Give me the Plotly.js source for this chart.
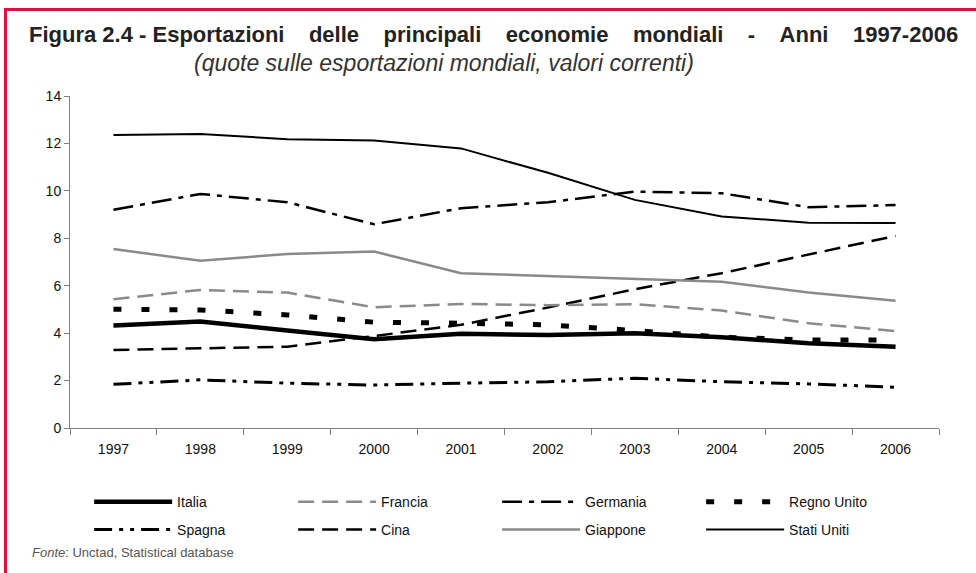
<!DOCTYPE html>
<html>
<head>
<meta charset="utf-8">
<script src="https://cdn.plot.ly/plotly-3.0.1.min.js"></script>
<style>
  body { margin: 0; background: #fff; }
  #plot { width: 976px; height: 573px; }
  .rb-left { position: absolute; left: 4px; top: 8px; width: 3px; height: 565px; background: #d7143f; }
  .rb-top { position: absolute; left: 4px; top: 8px; width: 972px; height: 3px; background: #d7143f; }
</style>
</head>
<body>
<div id="plot"></div>
<div class="rb-left"></div>
<div class="rb-top"></div>
<script>
// years on the x axis
let anni = ["1997", "1998", "1999", "2000", "2001", "2002", "2003", "2004", "2005", "2006"]

// quote sulle esportazioni mondiali (%)
let italia = [4.32, 4.49, 4.11, 3.74, 3.97, 3.92, 4.00, 3.83, 3.57, 3.43]
let francia = [5.43, 5.82, 5.71, 5.09, 5.23, 5.18, 5.22, 4.95, 4.42, 4.09]
let germania = [9.20, 9.87, 9.52, 8.59, 9.27, 9.52, 9.97, 9.90, 9.31, 9.40]
let regnoUnito = [5.01, 4.98, 4.77, 4.46, 4.42, 4.35, 4.11, 3.83, 3.71, 3.71]
let spagna = [1.84, 2.03, 1.89, 1.81, 1.89, 1.95, 2.10, 1.95, 1.86, 1.72]
let cina = [3.29, 3.35, 3.43, 3.88, 4.35, 5.08, 5.85, 6.53, 7.30, 8.10]
let giappone = [7.55, 7.05, 7.34, 7.44, 6.53, 6.41, 6.27, 6.17, 5.71, 5.37]
let statiUniti = [12.36, 12.40, 12.18, 12.12, 11.79, 10.76, 9.62, 8.92, 8.66, 8.64]

// title words, spread out like the justified title of the original
let titoloParole = ["Esportazioni", "delle", "principali", "economie", "mondiali", "-", "Anni", "1997-2006"]

const grigio = "#8a8a8a"

function serie(nome, valori, colore, spessore, tratto, legenda) {
  return {
    x: anni,
    y: valori,
    name: nome,
    type: "scatter",
    mode: "lines",
    line: { color: colore, width: spessore, dash: tratto },
    legend: legenda,
    hoverinfo: "skip"
  }
}

let data = [
  serie("Spagna", spagna, "#000", 3, "18px,7px,4px,7px,4px,7px", "legend2"),
  serie("Cina", cina, "#000", 2.5, "16px,8px", "legend2"),
  serie("Giappone", giappone, grigio, 2.5, "solid", "legend2"),
  serie("Stati Uniti", statiUniti, "#000", 2, "solid", "legend2"),
  serie("Italia", italia, "#000", 4.5, "solid", "legend"),
  serie("Francia", francia, grigio, 2.5, "16px,8px", "legend"),
  serie("Germania", germania, "#000", 2.5, "20px,7px,5px,7px", "legend"),
  serie("Regno Unito", regnoUnito, "#000", 5, "8px,20px", "legend")
]

const fontBase = { family: "Liberation Sans, Arial, sans-serif", size: 14, color: "#111" }
const spazio = "&nbsp;&nbsp;&nbsp;&nbsp;"

let legendaBase = {
  orientation: "h",
  itemwidth: 78,
  entrywidth: 111,
  entrywidthmode: "pixels",
  traceorder: "normal",
  font: fontBase,
  xanchor: "left",
  yanchor: "middle",
  bgcolor: "rgba(0,0,0,0)"
}

let layout = {
  width: 976,
  height: 573,
  margin: { l: 70, r: 37, t: 96, b: 145 },
  paper_bgcolor: "#fff",
  plot_bgcolor: "#fff",
  font: fontBase,
  showlegend: true,
  xaxis: {
    type: "category",
    range: [-0.5, 9.5],
    tickson: "boundaries",
    ticks: "outside",
    ticklen: 6,
    tickcolor: "#808080",
    showline: true,
    linecolor: "#808080",
    showgrid: false,
    zeroline: false,
    ticklabelstandoff: 8,
    tickfont: fontBase,
    fixedrange: true
  },
  yaxis: {
    range: [0, 14],
    dtick: 2,
    ticks: "outside",
    ticklen: 5,
    tickcolor: "#808080",
    showline: true,
    linecolor: "#808080",
    showgrid: false,
    zeroline: false,
    tickfont: fontBase,
    fixedrange: true
  },
  legend: Object.assign({}, legendaBase, { x: 0.022, y: -0.223 }),
  legend2: Object.assign({}, legendaBase, { x: 0.022, y: -0.307 }),
  annotations: [
    {
      text: "<b>Figura 2.4 - " + titoloParole.join(spazio) + "</b>",
      xref: "paper", yref: "paper", x: -0.05, y: 1.185,
      xanchor: "left", yanchor: "middle", showarrow: false,
      font: { family: "Liberation Sans, Arial, sans-serif", size: 22, color: "#222" }
    },
    {
      text: "<i>(quote sulle esportazioni mondiali, valori correnti)</i>",
      xref: "paper", yref: "paper", x: 0.14, y: 1.099,
      xanchor: "left", yanchor: "middle", showarrow: false,
      font: { family: "Liberation Sans, Arial, sans-serif", size: 23, color: "#333" }
    },
    {
      text: "<i>Fonte</i>: Unctad, Statistical database",
      xref: "paper", yref: "paper", x: -0.046, y: -0.3735,
      xanchor: "left", yanchor: "middle", showarrow: false,
      font: { family: "Liberation Sans, Arial, sans-serif", size: 13, color: "#555" }
    }
  ]
}

Plotly.newPlot("plot", data, layout, { displayModeBar: false, staticPlot: true })
</script>
</body>
</html>
